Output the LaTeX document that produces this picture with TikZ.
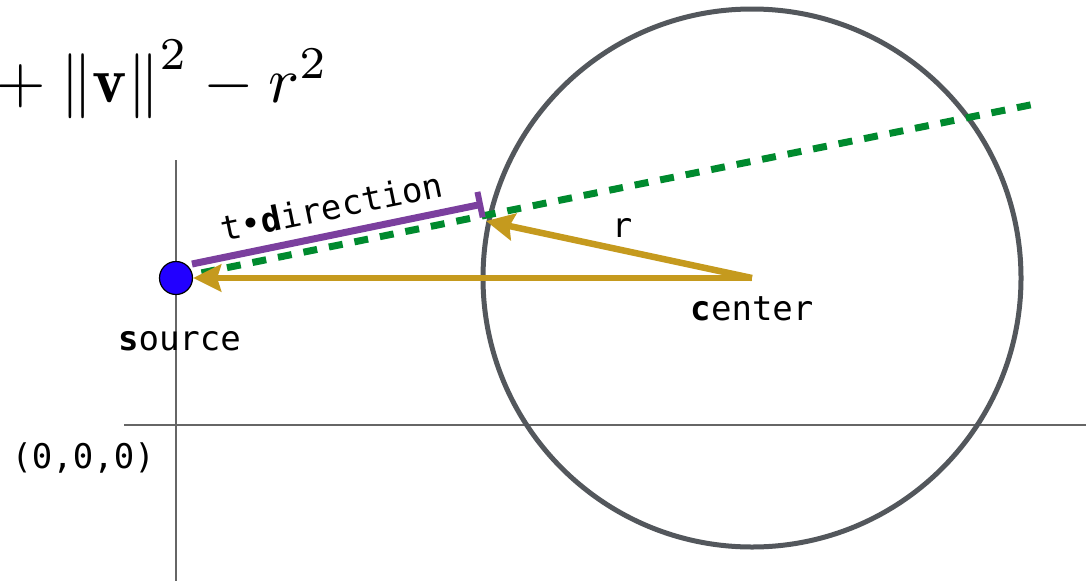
\documentclass[tikz,border=0pt]{standalone}
\usepackage{fontspec}
\setmonofont{DejaVu Sans Mono}
\usetikzlibrary{arrows.meta}
\definecolor{gold}{HTML}{C59A1E}
\definecolor{dgreen}{HTML}{008A2E}
\definecolor{purp}{HTML}{7B3F9E}
\definecolor{ringgray}{HTML}{53575C}
\definecolor{axisgray}{HTML}{666666}
\definecolor{srcblue}{HTML}{2200FF}
\tikzset{
  axis/.style={draw=axisgray, line width=1.6pt},
  lbl/.style={font=\fontsize{34}{40}\selectfont\ttfamily, inner sep=0pt},
  goldarrow/.style={draw=gold, line width=6.5pt, -{Stealth[length=28pt,width=27pt,inset=4pt]}},
}
\begin{document}
\begin{tikzpicture}[x=1pt,y=-1pt]
\useasboundingbox (0,0) rectangle (1086,581);
% axes
\coordinate (vtop) at (176,160);
\coordinate (vbot) at (176,581);
\coordinate (hl) at (124,425);
\coordinate (hr) at (1086,425);
\draw[axis] (vtop) -- (vbot);
\draw[axis] (hl) -- (hr);
% formula
\node[anchor=base west, inner sep=0pt] (formula) at (-5,102) {\scalebox{6.5}{$\mathord{+}\mskip1mu\left\|\mathbf{v}\right\|^2-r^2$}};
% sphere
\node[circle, draw=ringgray, line width=5pt, minimum size=538pt, inner sep=0pt] (sphere) at (752,278) {};
\coordinate (ctr) at (752,278);
% ray
\coordinate (rayend) at (1035,104);
\coordinate (src) at (176,278);
\draw[dgreen, line width=7pt, dash pattern=on 14pt off 12pt] (src) -- (rayend);
% t*direction
\coordinate (pstart) at (192,264);
\coordinate (pend) at (483,204);
\draw[purp, line width=7pt, -{Bar[width=26pt,line width=6pt]}] (pstart) -- (pend);
\node[lbl, anchor=base, rotate=11.65] (tdir) at (334,219) {t\textbullet\textbf{d}irection};
% arrows
\coordinate (hit) at (486,221);
\draw[goldarrow] (ctr) -- (hit);
\node[circle, fill=srcblue, draw=black, line width=1.2pt, minimum size=33pt, inner sep=0pt] (source) at (176,278) {};
\draw[goldarrow] (ctr) -- (source.east);
% labels
\node[lbl, anchor=base] (srclbl) at (179.5,350) {\textbf{s}ource};
\node[lbl, anchor=base] (ctrlbl) at (752,320) {\textbf{c}enter};
\node[lbl, anchor=base] (rlbl) at (622,237) {r};
\node[lbl, anchor=base east] (origin) at (155,468) {(0,0,0)};
\end{tikzpicture}
\end{document}
